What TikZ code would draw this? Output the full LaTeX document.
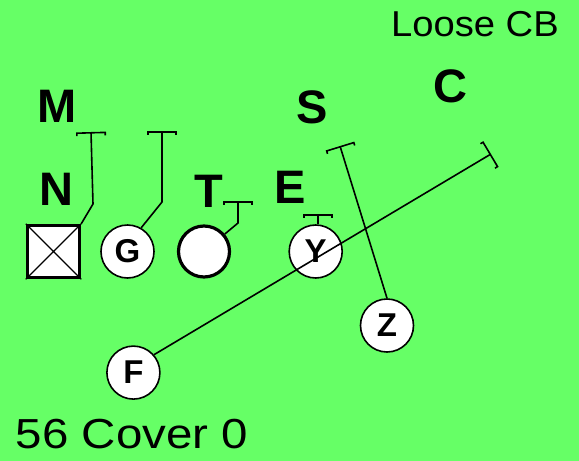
\documentclass[tikz,border=0pt]{standalone}
\usepackage{fontspec}
\setmainfont{Liberation Sans}
\usetikzlibrary{arrows.meta}
\definecolor{field}{RGB}{102,255,102}
\tikzset{
  player/.style={circle,draw=black,fill=white,line width=1.6pt,minimum size=53pt,inner sep=0pt,
    font=\fontsize{33}{33}\selectfont\bfseries},
  biglabel/.style={anchor=base,inner sep=0pt,font=\fontsize{47}{47}\selectfont\bfseries},
  plain/.style={anchor=base,inner sep=0pt,font=\fontsize{36}{36}\selectfont},
  route/.style={line width=1.6pt,-{Bracket[width=30pt,length=3pt]}},
}
\begin{document}
\begin{tikzpicture}[x=1pt,y=-1pt]
\fill[field] (0,0) rectangle (579,461);
\useasboundingbox (0,0) rectangle (579,461);

% labels
\node[plain] (loose) at (475,36.5) {\scalebox{1.06}[1]{Loose CB}};
\node[plain,font=\fontsize{42}{42}\selectfont] (cover) at (132,448) {\scalebox{1.13}[1]{56 Cover 0}};
\node[biglabel] (lM) at (57.5,122) {M};
\node[biglabel] (lN) at (56,205) {N};
\node[biglabel] (lT) at (209,207) {T};
\node[biglabel] (lE) at (290.5,203) {E};
\node[biglabel] (lS) at (312,123) {S};
\node[biglabel] (lC) at (450,102) {C};

% players
\node[draw=black,fill=white,line width=3.5pt,minimum size=52pt,inner sep=0pt] (sq) at (53.5,251.5) {};
\draw[line width=1.4pt] (sq.north west) -- (sq.south east) (sq.north east) -- (sq.south west);
\node[player] (G) at (127.5,251.5) {G};
\node[player,line width=3.2pt,minimum size=51pt] (T) at (204,251.5) {};
\node[player] (Y) at (315.7,251.5) {Y};
\node[player] (Z) at (387,325.5) {Z};
\node[player] (F) at (133.4,372.6) {F};

% route points
\coordinate (m1) at (93,204);
\coordinate (m2) at (91,132);
\coordinate (g1) at (162,202);
\coordinate (g2) at (162,131);
\coordinate (t1) at (238,223);
\coordinate (t2) at (238,201);
\coordinate (y2) at (318,214);
\coordinate (s2) at (340,146);
\coordinate (f2) at (491,154);

% routes
\draw[route] (sq.north east) -- (m1) -- (m2);
\draw[route] (G.60) -- (g1) -- (g2);
\draw[route] (T.40) -- (t1) -- (t2);
\draw[route] (Y.north -| y2) -- (y2);
\draw[route] (Z.north) -- (s2);
\draw[route] (F.41) -- (f2);
\end{tikzpicture}
\end{document}
